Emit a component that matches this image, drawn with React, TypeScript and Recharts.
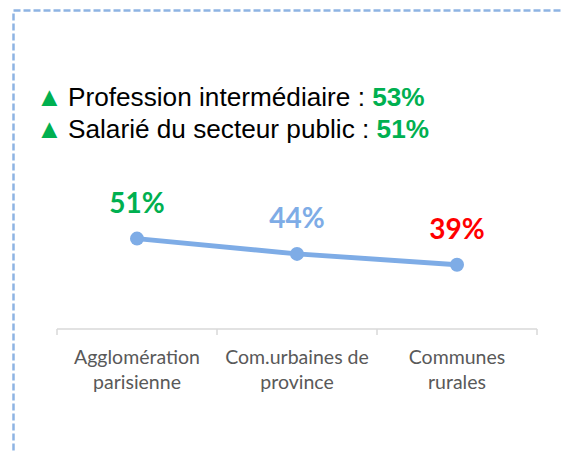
import { LineChart, Line, XAxis, YAxis, LabelList } from "recharts";

const categories = ["Agglomération\nparisienne", "Com.urbaines de\nprovince", "Communes\nrurales"];
const shares = [51, 44, 39];
const labelColors = ["#00B050", "#7EACE6", "#FF0000"];

const highlightLabels = ["Profession intermédiaire : ", "Salarié du secteur public : "];
const highlightValues = ["53%", "51%"];

const data = categories.map((c, i) => ({ name: c, value: shares[i], pos: i }));

const lineColor = "#7EACE6";

function CategoryTick(props: any) {
  const { x, y, payload } = props;
  const lines = String(payload.value).split("\n");
  return (
    <g>
      {lines.map((l, i) => (
        <text
          key={i}
          x={x}
          y={y + 36 + i * 25}
          textAnchor="middle"
          fill="#595959"
          fontSize={19.5}
          fontFamily="Lato, 'Open Sans', sans-serif"
        >
          {l}
        </text>
      ))}
    </g>
  );
}

function ValueLabel(props: any) {
  const { x, y, value, index } = props;
  return (
    <text
      x={x}
      y={y - 26}
      textAnchor="middle"
      fill={labelColors[index]}
      fontSize={28}
      fontWeight="bold"
      fontFamily="Lato, 'Open Sans', sans-serif"
    >
      {value}%
    </text>
  );
}

export default function App() {
  return (
    <div style={{ position: "absolute", left: 0, top: 0, width: 563, height: 452, background: "#fff" }}>
      <svg width={563} height={452} style={{ position: "absolute", left: 0, top: 0 }}>
        <rect
          x={13.5}
          y={10.5}
          width={600}
          height={500}
          fill="none"
          stroke="#8EB4E3"
          strokeWidth={2.5}
          strokeDasharray="7 3"
        />
        {highlightLabels.map((l, i) => (
          <g key={i} fontFamily="'Liberation Sans', Arial, sans-serif" fontSize={26.2}>
            <text x={36} y={106 + i * 32} fill="#00B050" fontSize={27}>
              ▲
            </text>
            <text x={68} y={106 + i * 32} fill="#000">
              {l}
              <tspan fill="#00B050" fontWeight="bold">
                {highlightValues[i]}
              </tspan>
            </text>
          </g>
        ))}
      </svg>
      <div style={{ position: "absolute", left: 0, top: 0 }}>
        <LineChart width={563} height={452} data={data} margin={{ top: 219, right: 26, bottom: 65, left: 57 }}>
          <XAxis
            dataKey="name"
            scale="band"
            axisLine={false}
            tickLine={false}
            tickSize={0}
            tickMargin={0}
            height={1}
            interval={0}
            tick={<CategoryTick />}
          />
          <XAxis
            xAxisId="edge"
            dataKey="pos"
            type="number"
            domain={[0, 3]}
            ticks={[0, 1, 2, 3]}
            allowDataOverflow
            tick={() => <g />}
            tickSize={6}
            height={58}
            stroke="#D9D9D9"
            strokeWidth={1.5}
          />
          <YAxis hide domain={[10, 60]} />
          <Line
            dataKey="value"
            stroke={lineColor}
            strokeWidth={5}
            dot={{ r: 7, fill: lineColor, stroke: lineColor, strokeWidth: 0 }}
            isAnimationActive={false}
          >
            <LabelList dataKey="value" content={<ValueLabel />} />
          </Line>
        </LineChart>
      </div>
    </div>
  );
}
